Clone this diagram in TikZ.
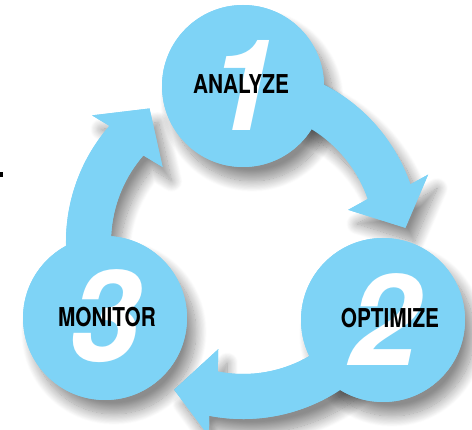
\documentclass[tikz,border=0pt]{standalone}
\usepackage{fontspec}
\usetikzlibrary{calc,shadows.blur}
\newfontfamily\labelfont{TeX Gyre Heros}[FakeStretch=0.8]
\newfontfamily\numfont{TeX Gyre Heros}
\definecolor{cycleblue}{RGB}{126,211,246}
\tikzset{
  x=1pt, y=1pt,
  cyclearrow/.style 2 args={insert path={
    (C) ++(#1:177pt) arc[start angle=#1, end angle=#2, radius=177pt]
    -- ($(C)+(#2+1:197pt)$) -- ($(C)+(#2-14:163pt)$) -- ($(C)+(#2-2:110pt)$)
    -- ($(C)+(#2:132pt)$) arc[start angle=#2, end angle=#1, radius=132pt] -- cycle}},
  softshadow/.style={blur shadow={shadow xshift=9pt, shadow yshift=-14pt,
    shadow blur radius=11pt, shadow opacity=45, shadow blur steps=20}},
  steplabel/.style={font=\labelfont\bfseries\fontsize{26}{26}\selectfont, text=black, inner sep=0pt},
  stepnum/.style={font=\numfont\bfseries\itshape\fontsize{127}{127}\selectfont, text=white, inner sep=0pt},
}
\begin{document}
\begin{tikzpicture}
\useasboundingbox (0,0) rectangle (472,-430);
\coordinate (C) at (243,-242);
\coordinate (c1) at (243,-86);
\coordinate (c2) at (383,-320);
\coordinate (c3) at (105,-318);
% shadows
\fill[cycleblue, softshadow, cyclearrow={91}{19}];
\fill[cycleblue, softshadow, cyclearrow={331}{259}];
\fill[cycleblue, softshadow, cyclearrow={210}{139}];
\fill[cycleblue, softshadow] (c1) circle[radius=81];
\fill[cycleblue, softshadow] (c2) circle[radius=82];
\fill[cycleblue, softshadow] (c3) circle[radius=82];
% shapes
\fill[cycleblue, cyclearrow={91}{19}];
\fill[cycleblue, cyclearrow={331}{259}];
\fill[cycleblue, cyclearrow={210}{139}];
\fill[cycleblue] (c1) circle[radius=81];
\fill[cycleblue] (c2) circle[radius=82];
\fill[cycleblue] (c3) circle[radius=82];
% numbers
\node[stepnum] (n1) at (243,-85) {1};
\node[stepnum] (n2) at (384,-320) {2};
\node[stepnum] (n3) at (105,-316) {3};
% labels
\node[steplabel] (l1) at (241,-84) {ANALYZE};
\node[steplabel] (l2) at (390,-318) {OPTIMIZE};
\node[steplabel] (l3) at (107,-317) {MONITOR};
% small mark
\fill[black] (0,-172) rectangle (3,-177);
\end{tikzpicture}
\end{document}
